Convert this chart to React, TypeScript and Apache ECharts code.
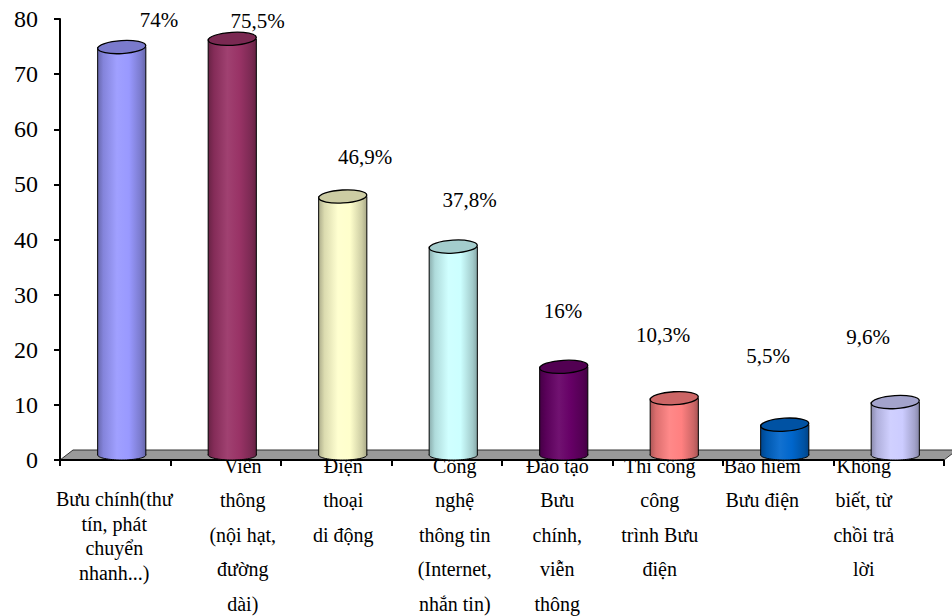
import React, { useEffect, useRef } from 'react';
import * as echarts from 'echarts';

// ---- data ----
const categories: string[] = [
  'Bưu chính(thư\ntín, phát\nchuyển\nnhanh...)',
  'Viễn\nthông\n(nội hạt,\nđường\ndài)',
  'Điện\nthoại\ndi động',
  'Công\nnghệ\nthông tin\n(Internet,\nnhắn tin)',
  'Đào tạo\nBưu\nchính,\nviễn\nthông',
  'Thi công\ncông\ntrình Bưu\nđiện',
  'Bảo hiểm\nBưu điện',
  'Không\nbiết, từ\nchồi trả\nlời',
];
const values: number[] = [74, 75.5, 46.9, 37.8, 16, 10.3, 5.5, 9.6];
const yMin = 0;
const yMax = 80;
const yInterval = 10;

// ---- styles ----
const barColors = ['#9999FF', '#993366', '#FFFFCC', '#CCFFFF', '#660066', '#FF8080', '#0066CC', '#CCCCFF'];
const catLabelDx = [-1, 17, 7, 8, 0, -8, -16, -25];
const catLabelTop = [26.75, -11.2, -11.2, -11.2, -11.2, -11.2, -11.2, -11.2];
const catLabelLineHeight = [24.5, 34.4, 34.4, 34.4, 34.4, 34.4, 34.4, 34.4];
const valueLabelOffset: [number, number][] = [
  [37.25, -26.6], [25.25, -18.3], [22.25, -39.5], [16.25, -47.1],
  [-0.75, -55.8], [-11.25, -63.2], [-16.75, -68.7], [-27.25, -65.1],
];
const DEPTH_X = 13;
const DEPTH_Y = 10;
const SERIF = 'Liberation Serif';

function shade(hex: string, f: number): string {
  const n = parseInt(hex.slice(1), 16);
  let r = (n >> 16) & 255, g = (n >> 8) & 255, b = n & 255;
  if (f <= 1) {
    r *= f; g *= f; b *= f;
  } else {
    const t = f - 1;
    r = r + (255 - r) * t; g = g + (255 - g) * t; b = b + (255 - b) * t;
  }
  return `rgb(${Math.round(r)},${Math.round(g)},${Math.round(b)})`;
}

const fmt = (v: number) => String(v).replace('.', ',') + '%';

export default function App() {
  const ref = useRef<HTMLDivElement>(null);
  useEffect(() => {
    if (!ref.current) return;
    const chart = echarts.init(ref.current, undefined, { renderer: 'svg' });
    const barData = values.map((v, i) => [i, v]);
    const catData = categories.map((_, i) => [i, 0]);

    const option: any = {
      animation: false,
      backgroundColor: '#ffffff',
      grid: { left: 60, right: 8, top: 19, bottom: 156, containLabel: false },
      xAxis: {
        type: 'category',
        data: categories,
        boundaryGap: true,
        axisLine: { show: false },
        axisTick: { show: true, length: 6, interval: 0, lineStyle: { color: '#000', width: 2 } },
        axisLabel: { show: false },
        splitLine: { show: false },
      },
      yAxis: {
        type: 'value',
        min: yMin,
        max: yMax,
        interval: yInterval,
        axisLine: { show: true, lineStyle: { color: '#000', width: 2 } },
        axisTick: { show: true, length: 6, lineStyle: { color: '#000', width: 2 } },
        axisLabel: { color: '#000', fontSize: 24, fontFamily: SERIF, margin: 22 },
        splitLine: { show: false },
      },
      series: [
        {
          // category labels (drawn under the floor, as in the original)
          type: 'custom',
          z: 1,
          data: catData,
          encode: { x: 0, y: 1 },
          silent: true,
          renderItem: (params: any, api: any) => {
            const i = api.value(0);
            const p = api.coord([i, 0]);
            return {
              type: 'text',
              x: p[0] + catLabelDx[i],
              y: p[1] + catLabelTop[i],
              style: {
                text: categories[i],
                fill: '#000',
                fontSize: 20,
                fontFamily: SERIF,
                align: 'center',
                verticalAlign: 'top',
                lineHeight: catLabelLineHeight[i],
              },
            };
          },
        },
        {
          // floor
          type: 'custom',
          z: 3,
          data: [[0, 0]],
          encode: { x: 0, y: 1 },
          silent: true,
          renderItem: (params: any, api: any) => {
            const cs = params.coordSys;
            const x = cs.x, w = cs.width;
            const y0 = api.coord([0, 0])[1];
            return {
              type: 'group',
              children: [
                {
                  type: 'polygon',
                  shape: {
                    points: [
                      [x, y0],
                      [x + DEPTH_X, y0 - DEPTH_Y],
                      [x + w + DEPTH_X, y0 - DEPTH_Y],
                      [x + w, y0],
                    ],
                  },
                  style: { fill: '#999999', stroke: '#333333', lineWidth: 1 },
                },
                {
                  type: 'line',
                  shape: { x1: x - 1, y1: y0, x2: x + w, y2: y0 },
                  style: { stroke: '#000', lineWidth: 2 },
                },
              ],
            };
          },
        },
        {
          // cylinders
          type: 'custom',
          z: 4,
          data: barData,
          encode: { x: 0, y: 1 },
          renderItem: (params: any, api: any) => {
            const i = api.value(0);
            const v = api.value(1);
            const base = api.coord([i, 0]);
            const top = api.coord([i, v]);
            const bw = api.size([1, 0])[0];
            const rx = bw * 0.218;
            const cx = base[0] + DEPTH_X / 2;
            const by = base[1] - DEPTH_Y / 2;
            const ty = top[1] - DEPTH_Y / 2;
            const c = barColors[i];
            const grad = () =>
              new echarts.graphic.LinearGradient(0, 0, 1, 0, [
                { offset: 0, color: shade(c, 0.68) },
                { offset: 0.12, color: shade(c, 0.86) },
                { offset: 0.4, color: shade(c, 1.07) },
                { offset: 0.65, color: shade(c, 1.0) },
                { offset: 0.9, color: shade(c, 0.8) },
                { offset: 1, color: shade(c, 0.66) },
              ]);
            return {
              type: 'group',
              children: [
                {
                  type: 'ellipse',
                  shape: { cx, cy: by, rx, ry: 5 },
                  style: { fill: grad(), stroke: '#000', lineWidth: 1 },
                },
                {
                  type: 'rect',
                  shape: { x: cx - rx, y: ty, width: 2 * rx, height: by - ty },
                  style: { fill: grad() },
                },
                {
                  type: 'line',
                  shape: { x1: cx - rx, y1: ty, x2: cx - rx, y2: by },
                  style: { stroke: '#000', lineWidth: 1 },
                },
                {
                  type: 'line',
                  shape: { x1: cx + rx, y1: ty, x2: cx + rx, y2: by },
                  style: { stroke: '#000', lineWidth: 1 },
                },
                {
                  type: 'ellipse',
                  x: cx,
                  y: ty,
                  rotation: 0.06,
                  shape: { cx: 0, cy: 0, rx, ry: 6.5 },
                  style: { fill: shade(c, 0.8), stroke: '#000', lineWidth: 1.3 },
                },
              ],
            };
          },
        },
        {
          // value labels
          type: 'custom',
          z: 5,
          data: barData,
          encode: { x: 0, y: 1 },
          silent: true,
          renderItem: (params: any, api: any) => {
            const i = api.value(0);
            const v = api.value(1);
            const top = api.coord([i, v]);
            const cx = top[0] + DEPTH_X / 2;
            const ty = top[1] - DEPTH_Y / 2;
            const [dx, dy] = valueLabelOffset[i];
            return {
              type: 'text',
              x: cx + dx,
              y: ty + dy,
              style: {
                text: fmt(values[i]),
                fill: '#000',
                fontSize: 21,
                fontFamily: SERIF,
                align: 'center',
                verticalAlign: 'middle',
              },
            };
          },
        },
      ],
    };
    chart.setOption(option);
    return () => chart.dispose();
  }, []);
  return (
    <div
      ref={ref}
      style={{ position: 'fixed', left: 0, top: 0, width: 952, height: 616, background: '#fff' }}
    />
  );
}
